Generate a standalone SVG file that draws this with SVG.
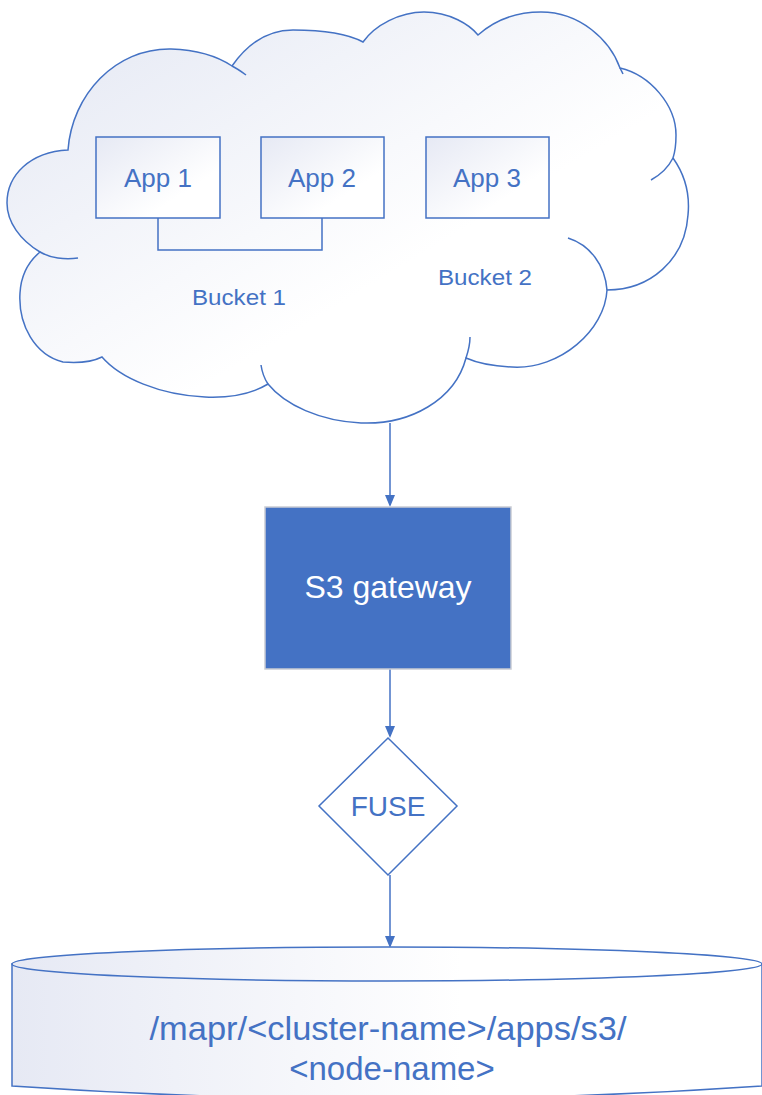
<svg xmlns="http://www.w3.org/2000/svg" width="762" height="1095" viewBox="0 0 762 1095">
<defs>
<linearGradient id="gc" x1="0" y1="0" x2="1" y2="1">
<stop offset="0" stop-color="#E3E7F3"/>
<stop offset="0.6" stop-color="#FFFFFF"/>
</linearGradient>
<linearGradient id="gb" x1="0" y1="0" x2="1" y2="1">
<stop offset="0" stop-color="#E6E9F4"/>
<stop offset="0.7" stop-color="#FFFFFF"/>
</linearGradient>
<linearGradient id="gcyl" x1="0" y1="0" x2="1" y2="0">
<stop offset="0" stop-color="#E6E9F4"/>
<stop offset="0.6" stop-color="#FFFFFF"/>
</linearGradient>
<marker id="arr" markerWidth="12" markerHeight="12" refX="10" refY="6" orient="auto" markerUnits="userSpaceOnUse">
<path d="M0,1 L12,6 L0,11 z" fill="#4472C4"/>
</marker>
</defs>
<style>
.ln{fill:none;stroke:#4472C4;stroke-width:1.5}
.box{fill:url(#gb);stroke:#4472C4;stroke-width:1.5}
.t{font-family:"Liberation Sans",Arial,sans-serif;fill:#4472C4;text-anchor:middle}
</style>
<rect width="762" height="1095" fill="#FFFFFF"/>
<g id="cloud">
<path fill="url(#gc)" stroke="#4472C4" stroke-width="1.5" d="M68,150 C72,95 115,48 171,49 C200,50 220,58 232,66 C250,40 272,30 293,30 C325,30 350,35 363,42 C375,25 400,12 424,12 C450,12 470,25 478,35 C495,20 515,12 541,12 C580,12 610,40 620,68 C650,75 676,105 676,135 C676,145 675,152 673,158 C685,175 690,195 688,215 C685,260 650,290 607,290 C605,330 560,370 512,367 C490,366 475,362 466,358 C455,400 410,425 361,423 C320,421 285,405 268,384 C250,395 228,398 205,397 C160,395 120,378 102,357 C90,363 75,363 63,362 C35,355 18,325 20,293 C21,275 28,262 40,252 C20,240 7,222 7,203 C7,175 30,152 68,150 Z"/>
<path class="ln" d="M232,66 C238,69 242,72 246,75"/>
<path class="ln" d="M673,158 C668,168 660,175 651,180"/>
<path class="ln" d="M568,238 C590,245 605,265 607,290"/>
<path class="ln" d="M470,337 C470,345 468,352 466,358"/>
<path class="ln" d="M268,384 C264,378 262,372 261,365"/>
<path class="ln" d="M40,252 C50,258 65,260 78,258"/>
<path class="ln" d="M620,68 C622,72 622,72 623,74"/>
</g>
<g id="connectors">
<path class="ln" d="M158,218 V250 H322 V218"/>
<line class="ln" x1="390" y1="423" x2="390" y2="505" marker-end="url(#arr)"/>
<line class="ln" x1="390" y1="669" x2="390" y2="736" marker-end="url(#arr)"/>
<line class="ln" x1="390" y1="875" x2="390" y2="946" marker-end="url(#arr)"/>
</g>
<g id="app1">
<rect class="box" x="96" y="137" width="124" height="81"/>
<text class="t" x="158" y="187" font-size="26">App 1</text>
</g>
<g id="app2">
<rect class="box" x="261" y="137" width="123" height="81"/>
<text class="t" x="322" y="187" font-size="26">App 2</text>
</g>
<g id="app3">
<rect class="box" x="426" y="137" width="123" height="81"/>
<text class="t" x="487" y="187" font-size="26">App 3</text>
</g>
<g id="bucket1">
<text class="t" x="239" y="305" font-size="22" textLength="94" lengthAdjust="spacingAndGlyphs">Bucket 1</text>
</g>
<g id="bucket2">
<text class="t" x="485" y="285" font-size="22" textLength="94" lengthAdjust="spacingAndGlyphs">Bucket 2</text>
</g>
<g id="s3gateway">
<rect x="265" y="507" width="246" height="162" fill="#4472C4" stroke="#C9CCD3" stroke-width="1.5"/>
<text class="t" x="388" y="598" font-size="32" style="fill:#FFFFFF">S3 gateway</text>
</g>
<g id="fuse">
<path d="M388,738 L457,806 L388,875 L319,806 Z" fill="#FFFFFF" stroke="#4472C4" stroke-width="1.5"/>
<text class="t" x="388" y="816" font-size="28">FUSE</text>
</g>
<g id="storage">
<path d="M12,964 V1086 Q387,1112 762,1086 V964 Z" fill="url(#gcyl)" stroke="#4472C4" stroke-width="1.5"/>
<ellipse cx="387" cy="964" rx="375" ry="17" fill="url(#gcyl)" stroke="#4472C4" stroke-width="1.5"/>
<text class="t" x="388" y="1040" font-size="33" textLength="477" lengthAdjust="spacingAndGlyphs">/mapr/&lt;cluster-name&gt;/apps/s3/</text>
<text class="t" x="392" y="1080" font-size="33">&lt;node-name&gt;</text>
</g>
</svg>
